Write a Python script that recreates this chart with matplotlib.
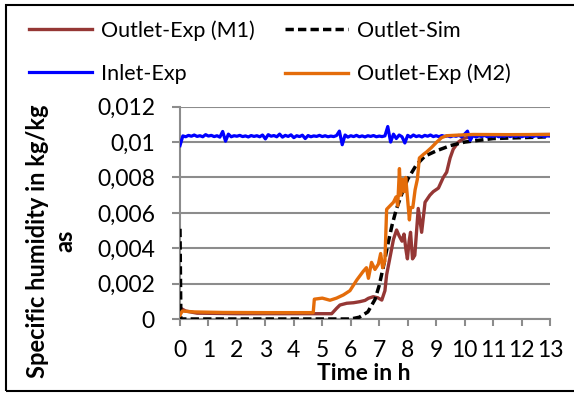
import numpy as np
import matplotlib
matplotlib.use("Agg")
import matplotlib.pyplot as plt
from matplotlib.patches import Rectangle

plt.rcParams['font.family'] = ['Lato', 'DejaVu Sans']

# ---------------- data ----------------
m1_t = [0, 0.03, 0.2, 0.6, 2, 4, 5.33, 5.5, 5.62, 5.86, 6.1, 6.32, 6.5, 6.62, 6.79,
        6.95, 7.09, 7.2, 7.26, 7.38, 7.5, 7.61, 7.7, 7.8, 7.87, 7.94, 7.99, 8.05,
        8.1, 8.17, 8.25, 8.3, 8.37, 8.49, 8.61, 8.78, 8.9, 9.08, 9.25, 9.37, 9.49,
        9.6, 9.78, 9.96, 10.3, 11, 13]
m1_v = [0.0003, 0.0006, 0.00045, 0.00033, 0.0003, 0.0003, 0.0003, 0.0006, 0.00079,
        0.00089, 0.00092, 0.00098, 0.00105, 0.00117, 0.00126, 0.0012, 0.00107,
        0.0016, 0.0025, 0.0035, 0.0045, 0.00503, 0.0047, 0.0044, 0.0048, 0.0039,
        0.0034, 0.0044, 0.0049, 0.0034, 0.0036, 0.0047, 0.00625, 0.0049, 0.0066,
        0.0070, 0.0072, 0.0074, 0.0080, 0.0083, 0.0091, 0.0096, 0.0100, 0.0102,
        0.01036, 0.0104, 0.01043]

sim_t = [0, 0.03, 6.0, 6.3, 6.6, 6.85, 7.0, 7.15, 7.3, 7.45, 7.6, 7.8, 8.0, 8.3,
         8.6, 9.0, 9.5, 10.0, 10.5, 11, 12, 13]
sim_v = [0.0051, 0, 0, 0.0001, 0.0004, 0.0011, 0.0019, 0.003, 0.0042, 0.0053,
         0.0062, 0.0071, 0.0079, 0.0087, 0.0092, 0.0095, 0.0098, 0.0100, 0.0101,
         0.0102, 0.01025, 0.0103]

inlet_t = np.round(np.arange(0, 13.001, 0.1), 1)
inlet_v = [0.0098, 0.01035, 0.01030, 0.01038, 0.01033, 0.01040, 0.01032, 0.01036,
           0.01030, 0.01042, 0.01034, 0.01038, 0.01031, 0.01036, 0.01028, 0.01060,
           0.01005, 0.01045, 0.01030, 0.01036, 0.01033, 0.01038, 0.01031, 0.01035,
           0.01029, 0.01037, 0.01032, 0.01036, 0.01030, 0.01040, 0.01018, 0.01042,
           0.01033, 0.01037, 0.01030, 0.01045, 0.01028, 0.01038, 0.01032, 0.01041,
           0.01025, 0.01036, 0.01031, 0.01039, 0.01020, 0.01037, 0.01030, 0.01035,
           0.01032, 0.01038, 0.01031, 0.01036, 0.01030, 0.01034, 0.01031, 0.01037,
           0.01062, 0.00985, 0.01040, 0.01028, 0.01036, 0.01031, 0.01038, 0.01030,
           0.01035, 0.01029, 0.01036, 0.01032, 0.01037, 0.01030, 0.01034, 0.01031,
           0.01035, 0.01088, 0.01000, 0.01045, 0.01020, 0.01040, 0.01030, 0.00995,
           0.01038, 0.01028, 0.01040, 0.01031, 0.01036, 0.01029, 0.01038, 0.01033,
           0.01040, 0.01031, 0.01036, 0.01030, 0.01037, 0.01032, 0.01035, 0.01030,
           0.01036, 0.01033, 0.01038, 0.01030, 0.01045, 0.01062, 0.01010, 0.01040,
           0.01028, 0.01036, 0.01031, 0.01038, 0.01030, 0.01035, 0.01032, 0.01037,
           0.01030, 0.01035, 0.01033, 0.01038, 0.01031, 0.01036, 0.01032, 0.01037,
           0.01030, 0.01035, 0.01032, 0.01038, 0.01031, 0.01036, 0.01033, 0.01037,
           0.01031, 0.01035, 0.01034]

m2_t = [0, 0.08, 0.5, 1.5, 3, 4.68, 4.72, 5.0, 5.27, 5.5, 5.74, 5.97, 6.21, 6.44,
        6.55, 6.62, 6.73, 6.85, 6.97, 7.05, 7.12, 7.2, 7.26, 7.38, 7.5, 7.59, 7.65,
        7.71, 7.75, 7.82, 7.88, 7.93, 7.99, 8.06, 8.1, 8.18, 8.26, 8.34, 8.41, 8.55,
        8.67, 8.84, 9.02, 9.19, 9.37, 9.84, 10.3, 11.5, 13]
m2_v = [0.00022, 0.00045, 0.0004, 0.00037, 0.00036, 0.00036, 0.00112, 0.00118,
        0.00106, 0.00118, 0.00136, 0.0016, 0.0022, 0.0027, 0.0029, 0.0023, 0.0032,
        0.0028, 0.0031, 0.0037, 0.0029, 0.0033, 0.0062, 0.0064, 0.0066, 0.0069,
        0.0064, 0.0085, 0.0070, 0.0079, 0.0072, 0.0080, 0.0069, 0.0056, 0.0063,
        0.0063, 0.0073, 0.0079, 0.0091, 0.0093, 0.00945, 0.0097, 0.0100, 0.01025,
        0.01036, 0.0104, 0.01043, 0.01042, 0.01043]

x_ticks = list(range(0, 14))
y_ticks = [0, 0.002, 0.004, 0.006, 0.008, 0.01, 0.012]
y_tick_labels = ['0', '0,002', '0,004', '0,006', '0,008', '0,01', '0,012']

colors = ['#953735', 'black', '#0000FF', '#E46C0A']

# ---------------- figure ----------------
W, H = 574, 394
fig = plt.figure(figsize=(W / 100, H / 100), dpi=100)
ax = fig.add_axes([180 / W, (H - 319) / H, (550 - 180) / W, (319 - 106.7) / H])

l_m1, = ax.plot(m1_t, m1_v, color=colors[0], lw=2.4, zorder=3)
l_sim, = ax.plot(sim_t, sim_v, color=colors[1], lw=2.5, dashes=(2.4, 1.2), zorder=4)
l_in, = ax.plot(inlet_t, inlet_v, color=colors[2], lw=2.3, zorder=5)
l_m2, = ax.plot(m2_t, m2_v, color=colors[3], lw=2.4, zorder=6)

ax.set_xlim(0, 13)
ax.set_ylim(0, 0.012)
ax.set_xticks(x_ticks)
ax.set_xticklabels([str(v) for v in x_ticks])
ax.set_yticks(y_ticks)
ax.set_yticklabels(y_tick_labels)

grid_c = '#8C8C8C'
ax.yaxis.grid(True, color=grid_c, lw=1.5, zorder=0)
ax.set_axisbelow(True)
for s in ['top', 'right']:
    ax.spines[s].set_visible(False)
for s in ['left', 'bottom']:
    ax.spines[s].set_color(grid_c)
    ax.spines[s].set_linewidth(1.5)
ax.tick_params(axis='both', colors=grid_c, width=1.5, labelcolor='black',
               labelsize=16.5)
ax.tick_params(axis='y', length=6, pad=12)
ax.tick_params(axis='x', length=5, pad=10)

fig.text(364 / W, 1 - 374 / H, 'Time in h', ha='center', va='center',
         fontsize=16.5, fontweight='bold')
fig.text(51 / W, 1 - 241 / H, 'Specific humidity in kg/kg\nas', ha='center',
         va='center', rotation=90, fontsize=17, fontweight='bold',
         multialignment='center', linespacing=1.25)

fig.legend([l_m1, l_in, l_sim, l_m2],
           ['Outlet-Exp (M1)', 'Inlet-Exp', 'Outlet-Sim', 'Outlet-Exp (M2)'],
           ncol=2, loc='upper left', bbox_to_anchor=(12 / W, 1 - 3 / H),
           frameon=False, fontsize=15.5, handlelength=2.93, handletextpad=0.42,
           columnspacing=1.4, labelspacing=1.06, borderpad=0.3)

fig.patches.append(Rectangle((6 / W, 1 - 391 / H), 1.0, (391 - 5) / H,
                             transform=fig.transFigure, fill=False,
                             edgecolor='black', lw=1.5, zorder=10))

fig.savefig('out.png', dpi=100)
